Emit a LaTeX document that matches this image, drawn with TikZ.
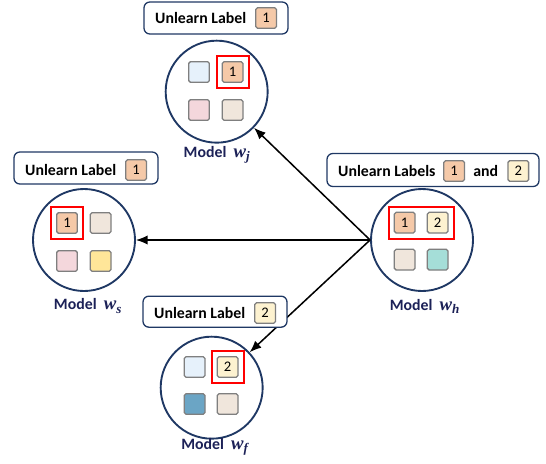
\documentclass[tikz,border=0pt]{standalone}
\usepackage{amsmath}
\usepackage{amssymb}
\usepackage{fontspec}
\setmainfont{Carlito}
\newfontfamily\wfont{Liberation Serif}
\usepgflibrary{arrows.meta}
\usetikzlibrary{positioning}
\definecolor{navy}{HTML}{1F3864}
\definecolor{ink}{HTML}{1C2157}
\definecolor{cellgray}{HTML}{7F7F7F}
\definecolor{cskyA}{HTML}{E6F1FB}
\definecolor{cpeach}{HTML}{F5C9A8}
\definecolor{cpink}{HTML}{F4D7DC}
\definecolor{cbeige}{HTML}{F0E6DC}
\definecolor{ccream}{HTML}{FDF2D0}
\definecolor{cgold}{HTML}{FFE699}
\definecolor{cteal}{HTML}{A5DED8}
\definecolor{cblue}{HTML}{6BA5C5}

\begin{document}
\begin{tikzpicture}[model node/.style={circle,draw=navy,line width=1.6pt,fill=white,minimum size=3.06cm,inner sep=0.},
  cell/.style={rectangle,rounded corners=1.5pt,draw=cellgray,line width=1.1pt,minimum size=0.62cm,inner sep=0.,font=\fontsize{12.5}{14}\selectfont},
  tag/.style={rectangle,rounded corners=5pt,draw=navy,line width=1.1pt,fill=white,minimum height=0.96cm},
  tag text/.style={inner sep=0.,font=\bfseries\fontsize{13.5}{16}\selectfont},
  pick/.style={draw=red,line width=1.6pt},
  caption/.style={text=ink,font=\bfseries\fontsize{13.5}{16}\selectfont},
  arr/.style={-{Latex[length=10pt,width=8pt]},line width=1.3pt},
  node distance=0.26cm]%
  \useasboundingbox (0., 0.) rectangle (16.38, -13.89);
  \node[model node] (wj) at (6.5, -2.75) {};
  \node[model node] (wh) at (12.66, -7.2) {};
  \node[model node] (ws) at (2.52, -7.2) {};
  \node[model node] (wf) at (6.35, -11.63) {};
  \draw[arr] (wh.west)--(wj);
  \draw[arr] (wh.west)--(ws);
  \draw[arr] (wh.west)--(wf);
  \node[cell,fill=cskyA] (j1) at (5.97, -2.16) {};
  \node[cell,fill=cpeach] (j2) at (6.98, -2.16) {1};
  \node[cell,fill=cpink] (j3) at (5.97, -3.3) {};
  \node[cell,fill=cbeige] (j4) at (6.98, -3.3) {};
  \draw[pick] ([shift={(-0.15,0.15)}]j2.north west) rectangle ([shift={(0.15,-0.15)}]j2.south east);
  \node[cell,fill=cpeach] (h1) at (12.14, -6.68) {1};
  \node[cell,fill=ccream] (h2) at (13.13, -6.68) {2};
  \node[cell,fill=cbeige] (h3) at (12.14, -7.79) {};
  \node[cell,fill=cteal] (h4) at (13.13, -7.79) {};
  \draw[pick] ([shift={(-0.15,0.15)}]h1.north west) rectangle ([shift={(0.15,-0.15)}]h2.south east);
  \node[cell,fill=cpeach] (s1) at (2.01, -6.69) {1};
  \node[cell,fill=cbeige] (s2) at (3.02, -6.69) {};
  \node[cell,fill=cpink] (s3) at (2.01, -7.83) {};
  \node[cell,fill=cgold] (s4) at (3.02, -7.83) {};
  \draw[pick] ([shift={(-0.15,0.15)}]s1.north west) rectangle ([shift={(0.15,-0.15)}]s1.south east);
  \node[cell,fill=cskyA] (f1) at (5.84, -11.01) {};
  \node[cell,fill=ccream] (f2) at (6.83, -11.01) {2};
  \node[cell,fill=cblue] (f3) at (5.84, -12.12) {};
  \node[cell,fill=cbeige] (f4) at (6.83, -12.12) {};
  \draw[pick] ([shift={(-0.15,0.15)}]f2.north west) rectangle ([shift={(0.15,-0.15)}]f2.south east);
  \node[tag,minimum width=4.32cm] (bj) at (6.48, -0.54) {};
  \node[tag text,anchor=west] (bjt) at (4.65, -0.54) {Unlearn Label};
  \node[cell,fill=cpeach,right=of bjt] (bjc) {1};
  \node[tag,minimum width=6.36cm,minimum height=0.99cm] (bh) at (12.99, -5.1) {};
  \node[tag text,anchor=west] (bht) at (10.14, -5.13) {Unlearn Labels};
  \node[cell,fill=cpeach,right=0.22 of bht] (bhc1) {1};
  \node[tag text,right=0.24 of bhc1] (bha) {and};
  \node[cell,fill=ccream,right=0.27 of bha] (bhc2) {2};
  \node[tag,minimum width=4.32cm] (bs) at (2.58, -5.04) {};
  \node[tag text,anchor=west] (bst) at (0.75, -5.1) {Unlearn Label};
  \node[cell,fill=cpeach,right=of bst] (bsc) {1};
  \node[tag,minimum width=4.32cm,minimum height=0.93cm] (bf) at (6.45, -9.35) {};
  \node[tag text,anchor=west] (bft) at (4.62, -9.39) {Unlearn Label};
  \node[cell,fill=ccream,right=of bft] (bfc) {2};
  \node[caption] (cj) at (6.51, -4.65) {Model\ \ {\wfont\itshape\fontsize{16}{18}\selectfont w\textsubscript{j}}};
  \node[caption] (ch) at (12.75, -9.18) {Model\ \ {\wfont\itshape\fontsize{16}{18}\selectfont w\textsubscript{h}}};
  \node[caption] (cs) at (2.64, -9.18) {Model\ \ {\wfont\itshape\fontsize{16}{18}\selectfont w\textsubscript{s}}};
  \node[caption] (cf) at (6.45, -13.41) {Model\ \ {\wfont\itshape\fontsize{16}{18}\selectfont w\textsubscript{f}}};
\end{tikzpicture}
\end{document}
